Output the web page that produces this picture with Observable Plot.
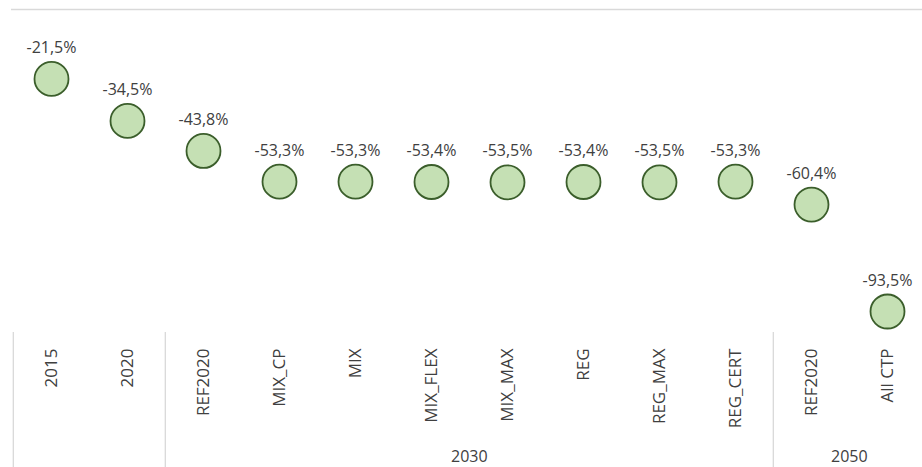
<!DOCTYPE html>
<html>
<head>
<meta charset="utf-8">
<script src="https://cdn.jsdelivr.net/npm/d3@7"></script>
<script src="https://cdn.jsdelivr.net/npm/@observablehq/plot@0.6"></script>
<style>
  html, body { margin: 0; padding: 0; background: #fff; }
  #chart svg { display: block; }
</style>
</head>
<body>
<div id="chart"></div>
<script>
const categories = ["2015", "2020", "REF2020", "MIX_CP", "MIX", "MIX_FLEX", "MIX_MAX", "REG", "REG_MAX", "REG_CERT", "REF2020", "All CTP"];
const values = [-21.5, -34.5, -43.8, -53.3, -53.3, -53.4, -53.5, -53.4, -53.5, -53.3, -60.4, -93.5];
const groupNames = ["2030", "2050"];
const groupFirst = [2, 10];
const groupLast = [9, 11];

const data = categories.map((c, i) => ({i, cat: c, value: values[i]}));
const fmt = v => v.toFixed(1).replace(".", ",") + "%";

const W = 922, H = 467;
const xRange = [10.5, 927];
const bw = (xRange[1] - xRange[0]) / categories.length;

const separators = [0, ...groupFirst];
// group label sits at the boundary in the middle of the group's categories
const groups = groupNames.map((g, k) => ({name: g, mid: (groupFirst[k] + groupLast[k] + 1) / 2}));

const chart = Plot.plot({
  width: W,
  height: H,
  marginTop: 9,
  marginBottom: 135,
  marginLeft: 11,
  marginRight: 0,
  style: {fontFamily: "'Open Sans', sans-serif", color: "#404040", background: "#fff"},
  x: {type: "band", domain: d3.range(categories.length), range: xRange, padding: 0, label: null},
  y: {domain: [-100, 0], axis: null},
  marks: [
    Plot.ruleY([0], {stroke: "#d9d9d9", strokeWidth: 1.3}),
    Plot.ruleX(separators, {x: d => d, dx: -bw / 2, y1: -100, y2: -150, stroke: "#d9d9d9", strokeWidth: 1.3}),
    Plot.axisX({
      tickRotate: -90, tickSize: 0, tickPadding: 16, fontSize: 17, label: null,
      tickFormat: i => categories[i], fill: "#404040"
    }),
    Plot.text(groups, {
      x: d => Math.floor(d.mid), y: -140.2, dx: -bw / 2,
      text: "name", fontSize: 16, fill: "#404040", lineAnchor: "bottom"
    }),
    Plot.dot(data, {x: "i", y: "value", r: 17, fill: "#c5e0b4", stroke: "#3b5e2b", strokeWidth: 1.8}),
    Plot.text(data, {x: "i", y: "value", text: d => fmt(d.value), dy: -31, fontSize: 16, fill: "#404040", lineAnchor: "middle"})
  ]
});
document.getElementById("chart").append(chart);
</script>
</body>
</html>
